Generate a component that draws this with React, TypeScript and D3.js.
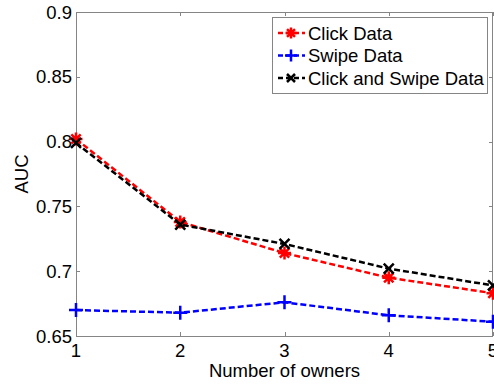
import React, { useEffect, useRef } from 'react';
import * as d3 from 'd3';

const owners = [1, 2, 3, 4, 5];
const clickData = [0.802, 0.738, 0.714, 0.695, 0.683];
const swipeData = [0.670, 0.668, 0.676, 0.666, 0.661];
const clickSwipeData = [0.799, 0.736, 0.721, 0.702, 0.689];
const yTicks = [0.65, 0.7, 0.75, 0.8, 0.85, 0.9];
const yTickLabels = ['0.65', '0.7', '0.75', '0.8', '0.85', '0.9'];
const seriesNames = ['Click Data', 'Swipe Data', 'Click and Swipe Data'];

const FONT = '"Liberation Sans", Arial, Helvetica, sans-serif';
const FONT_SIZE = '18.5px';
const AXIS_COLOR = '#858585';

// marker path generators (centered at 0,0)
function markerPath(kind: string, r: number) {
  if (kind === 'plus') return `M${-r},0H${r}M0,${-r}V${r}`;
  if (kind === 'x') return `M${-r},${-r}L${r},${r}M${-r},${r}L${r},${-r}`;
  const d = r * 0.72;
  return `M${-r},0H${r}M0,${-r}V${r}M${-d},${-d}L${d},${d}M${-d},${d}L${d},${-d}`;
}

function App() {
  const svgRef = useRef<SVGSVGElement>(null);

  useEffect(() => {
    const width = 494;
    const height = 387;
    const left = 76, right = 493, top = 12, bottom = 336;

    const svg = d3.select(svgRef.current)
      .attr('width', width)
      .attr('height', height);
    svg.selectAll('*').remove();

    const x = d3.scaleLinear().domain([1, 5]).range([left, right]);
    const y = d3.scaleLinear().domain([0.65, 0.9]).range([bottom, top]);

    const series = [
      { name: seriesNames[0], values: clickData, color: '#ff0000', marker: 'star', r: 6.5, lr: 5.5 },
      { name: seriesNames[1], values: swipeData, color: '#0000ff', marker: 'plus', r: 7, lr: 6 },
      { name: seriesNames[2], values: clickSwipeData, color: '#000000', marker: 'x', r: 5, lr: 4 },
    ];

    const g = svg.append('g');

    // frame
    g.append('rect')
      .attr('x', left + 0.5).attr('y', top + 0.5)
      .attr('width', right - left - 1).attr('height', bottom - top)
      .attr('fill', 'none').attr('stroke', AXIS_COLOR).attr('stroke-width', 1);

    // ticks (inward, on all four sides)
    owners.forEach((o) => {
      const px = Math.round(x(o)) + 0.5;
      g.append('line').attr('x1', px).attr('x2', px).attr('y1', bottom).attr('y2', bottom - 4)
        .attr('stroke', AXIS_COLOR);
      g.append('line').attr('x1', px).attr('x2', px).attr('y1', top).attr('y2', top + 4)
        .attr('stroke', AXIS_COLOR);
      g.append('text')
        .attr('x', x(o)).attr('y', 357)
        .attr('text-anchor', 'middle')
        .style('font-family', FONT).style('font-size', FONT_SIZE)
        .text(String(o));
    });
    yTicks.forEach((t, i) => {
      const py = Math.round(y(t)) + 0.5;
      g.append('line').attr('x1', left).attr('x2', left + 4).attr('y1', py).attr('y2', py)
        .attr('stroke', AXIS_COLOR);
      g.append('line').attr('x1', right).attr('x2', right - 4).attr('y1', py).attr('y2', py)
        .attr('stroke', AXIS_COLOR);
      g.append('text')
        .attr('x', 72).attr('y', y(t))
        .attr('dy', '0.36em')
        .attr('text-anchor', 'end')
        .style('font-family', FONT).style('font-size', FONT_SIZE)
        .text(yTickLabels[i]);
    });

    // axis labels
    g.append('text')
      .attr('x', (left + right) / 2).attr('y', 377)
      .attr('text-anchor', 'middle')
      .style('font-family', FONT).style('font-size', FONT_SIZE)
      .text('Number of owners');
    g.append('text')
      .attr('transform', `translate(28,${(top + bottom) / 2}) rotate(-90)`)
      .attr('text-anchor', 'middle')
      .style('font-family', FONT).style('font-size', FONT_SIZE)
      .text('AUC');

    const line = d3.line<number>()
      .x((d, i) => x(owners[i]))
      .y((d) => y(d));

    series.forEach((s) => {
      g.append('path')
        .datum(s.values)
        .attr('d', line)
        .attr('fill', 'none')
        .attr('stroke', s.color)
        .attr('stroke-width', 2.5)
        .attr('stroke-dasharray', '6,3');
      g.selectAll(null)
        .data(s.values)
        .enter().append('path')
        .attr('transform', (d, i) => `translate(${x(owners[i])},${y(d)})`)
        .attr('d', markerPath(s.marker, s.r))
        .attr('fill', 'none')
        .attr('stroke', s.color)
        .attr('stroke-width', 2.5);
    });

    // legend
    const legend = g.append('g');
    legend.append('rect')
      .attr('x', 272.5).attr('y', 17.5)
      .attr('width', 215).attr('height', 76)
      .attr('fill', '#ffffff').attr('stroke', AXIS_COLOR);
    series.forEach((s, i) => {
      const ly = 33 + i * 22.5;
      legend.append('line')
        .attr('x1', 278).attr('x2', 305).attr('y1', ly).attr('y2', ly)
        .attr('stroke', s.color).attr('stroke-width', 2.5)
        .attr('stroke-dasharray', '5,3');
      legend.append('path')
        .attr('transform', `translate(291,${ly})`)
        .attr('d', markerPath(s.marker, s.lr))
        .attr('fill', 'none').attr('stroke', s.color).attr('stroke-width', 2.5);
      legend.append('text')
        .attr('x', 308).attr('y', ly)
        .attr('dy', '0.36em')
        .style('font-family', FONT).style('font-size', FONT_SIZE)
        .text(s.name);
    });
  }, []);

  return (
    <svg ref={svgRef} style={{ position: 'absolute', left: 0, top: 0, display: 'block' }}></svg>
  );
}

export default App;
